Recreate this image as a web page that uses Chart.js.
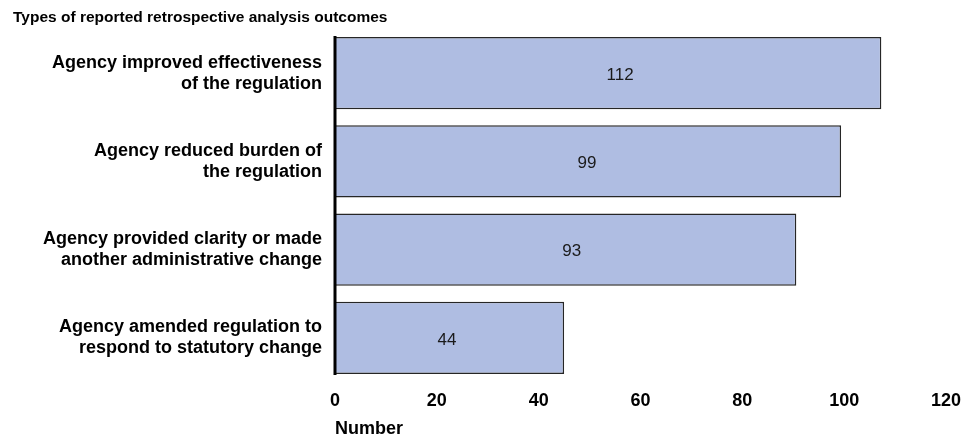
<!DOCTYPE html>
<html>
<head>
<meta charset="utf-8">
<script src="https://cdn.jsdelivr.net/npm/chart.js@4.4.1/dist/chart.umd.min.js"></script>
<style>
  html, body { margin: 0; padding: 0; background: #fff; }
  #wrap { width: 977px; height: 440px; position: relative; }
</style>
</head>
<body>
<div id="wrap"><canvas id="c" width="977" height="440"></canvas></div>
<script>
// ---- data ----
const chartTitle = "Types of reported retrospective analysis outcomes";
const categories = [
  ["Agency improved effectiveness", "of the regulation"],
  ["Agency reduced burden of", "the regulation"],
  ["Agency provided clarity or made", "another administrative change"],
  ["Agency amended regulation to", "respond to statutory change"]
];
// bar lengths as drawn in the picture
const barLengths = [107.3, 99.4, 90.6, 45.0];
// numbers printed inside the bars
const printedCounts = [112, 99, 93, 44];
const xTickValues = [0, 20, 40, 60, 80, 100, 120];
const xAxisTitle = "Number";

const FONT = '"Liberation Sans", Arial, Helvetica, sans-serif';

const titlePlugin = {
  id: 'topTitle',
  afterDraw(chart) {
    const ctx = chart.ctx;
    ctx.save();
    ctx.font = 'bold 15.5px ' + FONT;
    ctx.fillStyle = '#000';
    ctx.textAlign = 'left';
    ctx.textBaseline = 'alphabetic';
    ctx.fillText(chartTitle, 13, 22);
    ctx.restore();
  }
};

const axisLinePlugin = {
  id: 'axisLine',
  afterDatasetsDraw(chart) {
    const meta = chart.getDatasetMeta(0);
    const bars = meta.data;
    if (!bars.length) return;
    const x0 = chart.scales.x.getPixelForValue(0);
    const top = bars[0].y - bars[0].height / 2 - 1;
    const bottom = bars[bars.length - 1].y + bars[bars.length - 1].height / 2 + 1;
    const ctx = chart.ctx;
    ctx.save();
    ctx.strokeStyle = '#000';
    ctx.lineWidth = 3;
    ctx.beginPath();
    ctx.moveTo(x0, top);
    ctx.lineTo(x0, bottom);
    ctx.stroke();
    ctx.restore();
  }
};

const valueLabelPlugin = {
  id: 'valueLabels',
  afterDatasetsDraw(chart) {
    const meta = chart.getDatasetMeta(0);
    const xs = chart.scales.x;
    const ctx = chart.ctx;
    ctx.save();
    ctx.font = '17px ' + FONT;
    ctx.fillStyle = '#1a1a1a';
    ctx.textAlign = 'center';
    ctx.textBaseline = 'middle';
    meta.data.forEach((bar, i) => {
      const x = xs.getPixelForValue(printedCounts[i] / 2);
      ctx.fillText(String(printedCounts[i]), x, bar.y + 2);
    });
    ctx.restore();
  }
};

new Chart(document.getElementById('c'), {
  type: 'bar',
  data: {
    labels: categories,
    datasets: [{
      data: barLengths,
      backgroundColor: '#AFBDE2',
      borderColor: '#262626',
      borderWidth: 1.5,
      barPercentage: 0.82,
      categoryPercentage: 1.0
    }]
  },
  options: {
    indexAxis: 'y',
    responsive: false,
    animation: false,
    layout: { padding: { top: 29, left: 0, right: 31, bottom: 0 } },
    plugins: {
      legend: { display: false },
      tooltip: { enabled: false },
      title: { display: false }
    },
    scales: {
      x: {
        min: 0,
        max: 120,
        afterBuildTicks(scale) {
          scale.ticks = xTickValues.map(v => ({ value: v }));
        },
        afterFit(scale) {
          scale.height = 58;
          scale.paddingLeft = 0;
          scale.paddingRight = 0;
        },
        grid: { display: false, drawTicks: false },
        border: { display: false },
        ticks: {
          padding: 8,
          color: '#000',
          font: { family: FONT, size: 18, weight: 'bold' }
        },
        title: {
          display: true,
          text: xAxisTitle,
          align: 'start',
          color: '#000',
          padding: 0,
          font: { family: FONT, size: 18, weight: 'bold' }
        }
      },
      y: {
        afterFit(scale) {
          scale.width = 335;
          scale.paddingTop = 0;
          scale.paddingBottom = 0;
        },
        grid: { display: false, drawTicks: false },
        border: { display: false },
        ticks: {
          padding: 13,
          color: '#000',
          font: { family: FONT, size: 18, weight: 'bold', lineHeight: 1.17 }
        }
      }
    }
  },
  plugins: [titlePlugin, axisLinePlugin, valueLabelPlugin]
});
</script>
</body>
</html>
